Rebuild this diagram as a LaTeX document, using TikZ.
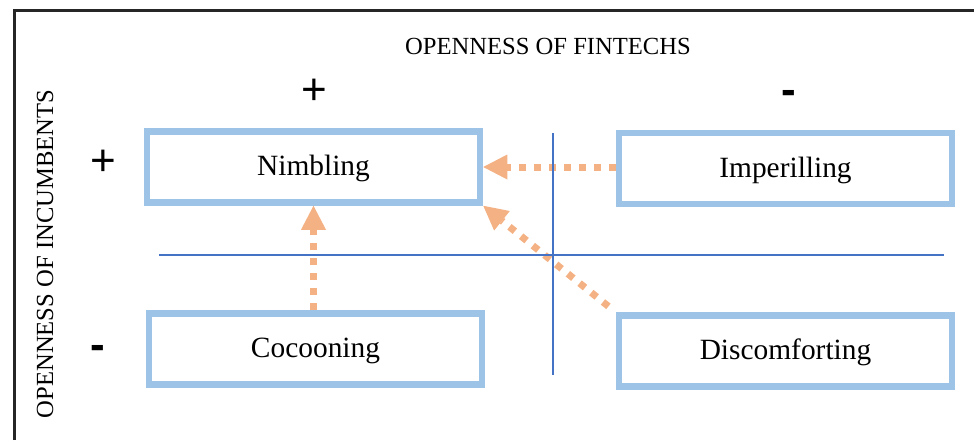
\documentclass[tikz,border=0pt]{standalone}
\usepackage{fontspec}
\setmainfont{Liberation Serif}
\newfontfamily\signfont{Liberation Sans}
\newfontfamily\minusfont{Liberation Sans Bold}
\usepackage{xcolor}
\usetikzlibrary{positioning, calc, arrows.meta}

\definecolor{boxblue}{HTML}{9DC3E6}
\definecolor{arrowpeach}{HTML}{F4B183}
\definecolor{axisblue}{HTML}{4472C4}

\begin{document}
\begin{tikzpicture}[
    x=0.5pt, y=-0.5pt,
    every node/.style={font=\fontsize{14.7}{17}\selectfont},
    quadrant/.style={
        rectangle,
        draw=boxblue,
        line width=3.25pt,
        minimum width=166.5pt,
        minimum height=35.5pt,
        text height=1.08em,
        text depth=0.22em,
        align=center
    },
    heading/.style={
        font=\fontsize{12.3}{14}\selectfont,
        inner sep=0pt
    },
    sign/.style={
        font=\signfont\fontsize{22}{24}\selectfont,
        inner sep=0pt
    },
    minus/.style={
        font=\minusfont\fontsize{22}{24}\selectfont,
        inner sep=0pt
    },
    move/.style={
        draw=arrowpeach,
        line width=3.5pt,
        dash pattern=on 3.5pt off 4pt,
        -{Triangle[length=12pt, width=12.5pt, line width=0pt]}
    },
    axisline/.style={
        draw=axisblue,
        line width=0.75pt
    },
    frame/.style={
        draw=black!85,
        line width=1.5pt
    }
]
\useasboundingbox (0,0) rectangle (974,440);

% Frame
\draw[frame] (14,440) -- (14,10) -- (974,10);

% Axis titles and signs
\node[heading] (xtitle) at (548,46) {OPENNESS OF FINTECHS};
\node[heading, rotate=90] (ytitle) at (45,254) {OPENNESS OF INCUMBENTS};

\node[sign] (xplus) at (314,92) {+};
\node[minus] (xminus) at (789,97) {-};
\node[sign] (yplus) at (103,163) {+};
\node[minus] (yminus) at (98,352) {-};

% Quadrants
\node[quadrant] (nimb) at (313.5,167) {Nimbling};
\node[quadrant] (imper) at (785.5,168.5) {Imperilling};
\node[quadrant] (cocoon) at (315.5,349) {Cocooning};
\node[quadrant] (discomf) at (785.5,351) {Discomforting};

% Moves towards Nimbling
\draw[move] (imper.west |- nimb.east) -- (nimb.east);
\draw[move] (nimb.south |- cocoon.north) -- (nimb.south);
\draw[move, shorten <=4.7pt] (discomf.north west) -- (nimb.south east);

% Axes
\draw[axisline] (159,255) -- (944,255);
\draw[axisline] (553,133) -- (553,375);

\end{tikzpicture}
\end{document}
